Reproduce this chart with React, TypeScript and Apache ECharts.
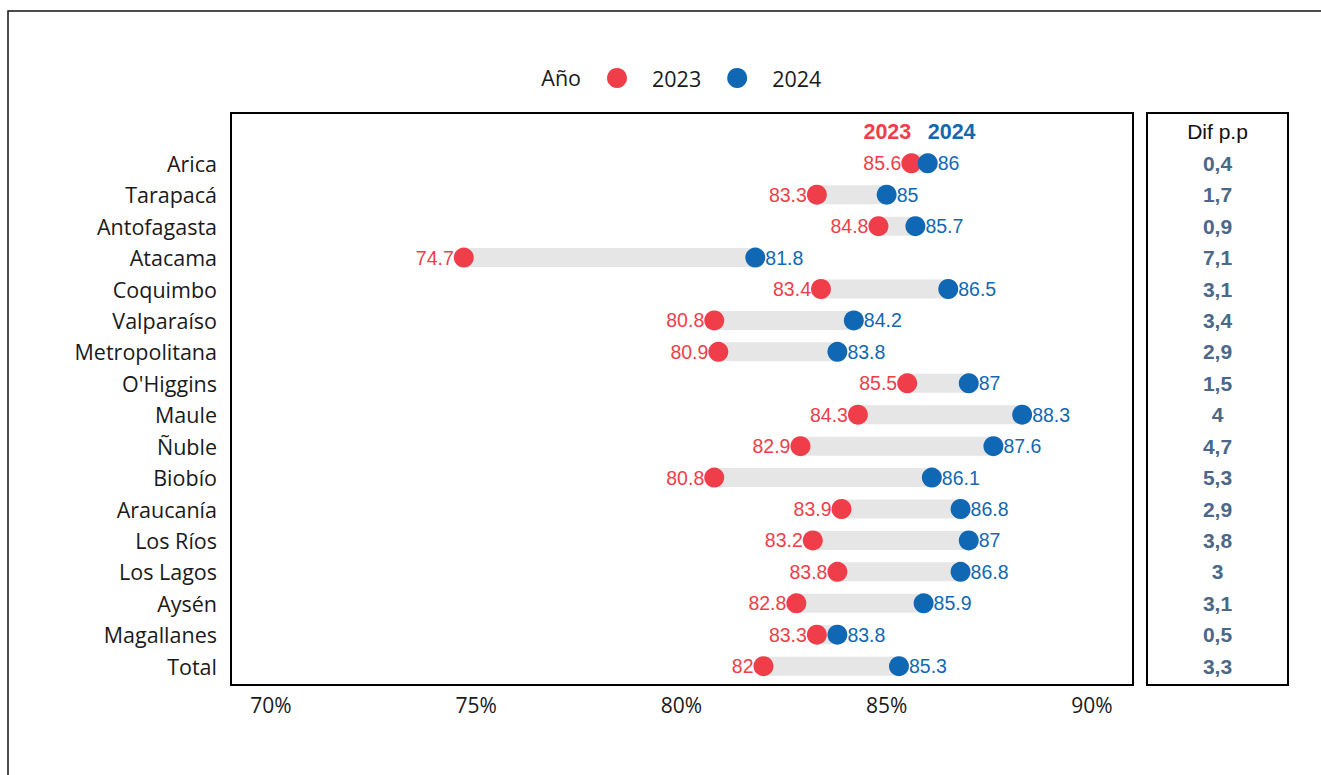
import React, { useEffect, useRef } from "react";
import * as echarts from "echarts";

const regions = [
  "Arica", "Tarapacá", "Antofagasta", "Atacama", "Coquimbo", "Valparaíso",
  "Metropolitana", "O'Higgins", "Maule", "Ñuble", "Biobío", "Araucanía",
  "Los Ríos", "Los Lagos", "Aysén", "Magallanes", "Total",
];
const values2023 = [85.6, 83.3, 84.8, 74.7, 83.4, 80.8, 80.9, 85.5, 84.3, 82.9, 80.8, 83.9, 83.2, 83.8, 82.8, 83.3, 82];
const values2024 = [86, 85, 85.7, 81.8, 86.5, 84.2, 83.8, 87, 88.3, 87.6, 86.1, 86.8, 87, 86.8, 85.9, 83.8, 85.3];
const difPP = [0.4, 1.7, 0.9, 7.1, 3.1, 3.4, 2.9, 1.5, 4, 4.7, 5.3, 2.9, 3.8, 3, 3.1, 0.5, 3.3];
const xTicks = [70, 75, 80, 85, 90];
const seriesNames = ["2023", "2024"];

const RED = "#EF3E4A";
const BLUE = "#1068B4";
const DIF = "#4A6889";
const LABEL_FONT = "Open Sans";
const NUM_FONT = "Liberation Sans";
const LABEL_SIZE = 21.5;

export default function App() {
  const ref = useRef<HTMLDivElement>(null);
  useEffect(() => {
    if (!ref.current) return;
    const chart = echarts.init(ref.current, null, { renderer: "svg" });
    const n = regions.length;
    const rowOf = (i: number) => n - 1 - i; // Arica at top
    const headerRow = n;

    const option: any = {
      animation: false,
      backgroundColor: "#ffffff",
      legend: {
        data: seriesNames,
        left: 607,
        top: 67,
        padding: 0,
        icon: "circle",
        itemWidth: 20,
        itemHeight: 20,
        itemGap: 26,
        textStyle: { fontFamily: LABEL_FONT, fontSize: LABEL_SIZE, color: "#1a1a1a", padding: [0, 0, 0, 20] },
      },
      graphic: [
        {
          type: "rect",
          shape: { x: 8, y: 11, width: 1400, height: 900 },
          style: { fill: "none", stroke: "#111", lineWidth: 1.5 },
          silent: true,
        },
        {
          type: "text",
          x: 581,
          y: 77,
          style: { text: "Año", fontFamily: LABEL_FONT, fontSize: LABEL_SIZE, fill: "#1a1a1a", align: "right", verticalAlign: "middle" },
        },
      ],
      grid: [
        { left: 231, top: 113, width: 902, height: 572, show: true, borderColor: "#000", borderWidth: 2, backgroundColor: "transparent" },
        { left: 1147, top: 113, width: 141, height: 572, show: true, borderColor: "#000", borderWidth: 2, backgroundColor: "transparent" },
      ],
      xAxis: [
        {
          type: "value",
          gridIndex: 0,
          min: 69.03,
          max: 91.0,
          axisLine: { show: false },
          axisTick: { show: false },
          splitLine: { show: false },
          axisLabel: {
            customValues: xTicks,
            formatter: (v: number) => `${v}%`,
            fontFamily: LABEL_FONT,
            fontSize: 21,
            color: "#1a1a1a",
            margin: 9,
          },
        },
        { type: "value", gridIndex: 1, min: 0, max: 1, show: false },
      ],
      yAxis: [
        {
          type: "value",
          gridIndex: 0,
          min: -0.6,
          max: 17.6,
          axisLine: { show: false },
          axisTick: { show: false },
          splitLine: { show: false },
          axisLabel: {
            customValues: regions.map((_, i) => rowOf(i)),
            formatter: (v: number) => regions[n - 1 - Math.round(v)] ?? "",
            fontFamily: LABEL_FONT,
            fontSize: LABEL_SIZE,
            color: "#1a1a1a",
            margin: 14,
          },
        },
        { type: "value", gridIndex: 1, min: -0.6, max: 17.6, show: false },
      ],
      series: [
        {
          type: "custom",
          xAxisIndex: 0,
          yAxisIndex: 0,
          data: regions.map((_, i) => [values2023[i], values2024[i], rowOf(i)]),
          encode: { x: [0, 1], y: 2 },
          renderItem: (params: any, api: any) => {
            const s = api.coord([api.value(0), api.value(2)]);
            const e = api.coord([api.value(1), api.value(2)]);
            return {
              type: "rect",
              shape: { x: s[0], y: s[1] - 9.5, width: e[0] - s[0], height: 19 },
              style: { fill: "#E6E6E6" },
            };
          },
          silent: true,
          z: 1,
        },
        {
          name: seriesNames[0],
          type: "scatter",
          xAxisIndex: 0,
          yAxisIndex: 0,
          symbolSize: 20,
          itemStyle: { color: RED, opacity: 1 },
          data: regions.map((_, i) => [values2023[i], rowOf(i)]),
          label: {
            show: true,
            position: "left",
            distance: 0,
            formatter: (p: any) => String(p.value[0]),
            fontFamily: NUM_FONT,
            fontSize: 19.5,
            color: RED,
          },
          z: 3,
        },
        {
          name: seriesNames[1],
          type: "scatter",
          xAxisIndex: 0,
          yAxisIndex: 0,
          symbolSize: 20,
          itemStyle: { color: BLUE, opacity: 1 },
          data: regions.map((_, i) => [values2024[i], rowOf(i)]),
          label: {
            show: true,
            position: "right",
            distance: 0,
            formatter: (p: any) => String(p.value[0]),
            fontFamily: NUM_FONT,
            fontSize: 19.5,
            color: BLUE,
          },
          z: 4,
        },
        {
          type: "scatter",
          xAxisIndex: 0,
          yAxisIndex: 0,
          symbolSize: 0,
          silent: true,
          itemStyle: { opacity: 1 },
          data: [
            { value: [values2023[0], headerRow], label: { position: "left", color: RED, formatter: seriesNames[0] } },
            { value: [values2024[0], headerRow], label: { position: "right", color: BLUE, formatter: seriesNames[1] } },
          ],
          label: { show: true, distance: 0, fontFamily: NUM_FONT, fontSize: 21.5, fontWeight: "bold" },
        },
        {
          type: "scatter",
          xAxisIndex: 1,
          yAxisIndex: 1,
          symbolSize: 0,
          silent: true,
          itemStyle: { opacity: 1 },
          data: [
            ...regions.map((_, i) => ({
              value: [0.5, rowOf(i)],
              label: { formatter: String(difPP[i]).replace(".", ",") },
            })),
            {
              value: [0.5, headerRow],
              label: { formatter: "Dif p.p", fontWeight: "normal", color: "#111", fontSize: 21 },
            },
          ],
          label: {
            show: true,
            position: "inside",
            fontFamily: NUM_FONT,
            fontSize: 21,
            fontWeight: "bold",
            color: DIF,
          },
        },
      ],
    };
    chart.setOption(option);
    return () => chart.dispose();
  }, []);
  return (
    <div
      ref={ref}
      style={{ position: "fixed", left: 0, top: 0, width: 1321, height: 775, background: "#fff" }}
    />
  );
}
